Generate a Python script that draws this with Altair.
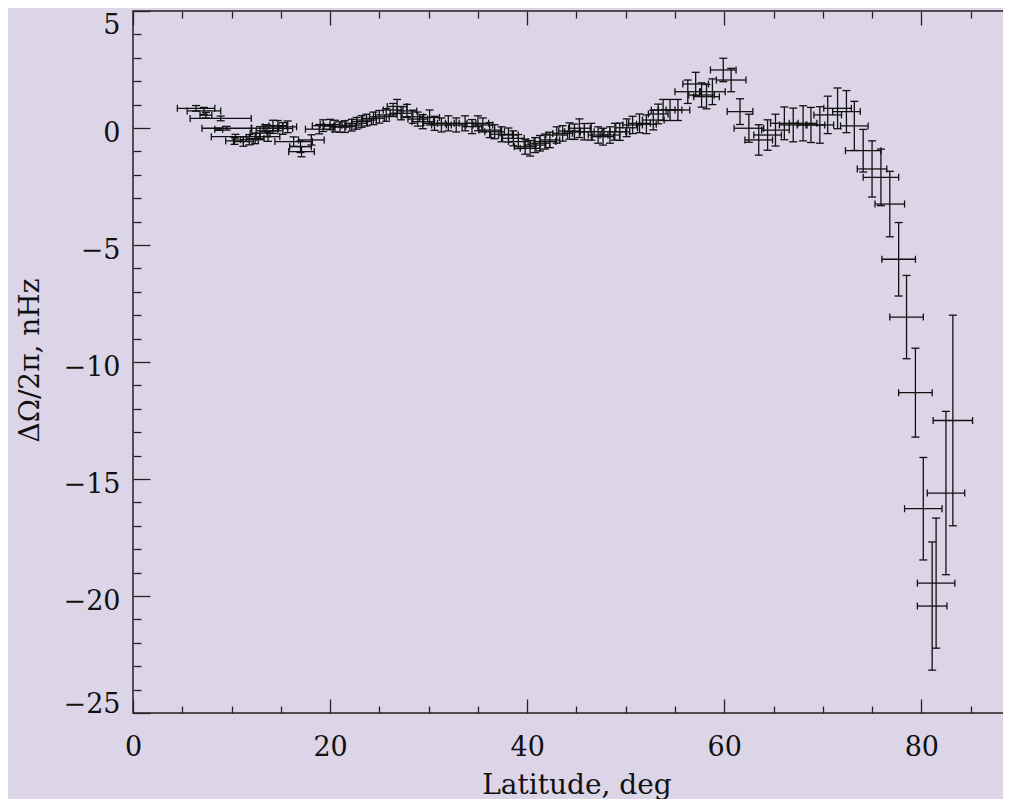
import altair as alt
import pandas as pd

# Latitude (deg), differential rotation (nHz), and half-widths of the error bars
lat = [6.4, 7.2, 7.4, 8.9, 8.7, 9.5, 10.4, 10.3, 11.2, 11.8, 12.4, 12.9, 13.4, 13.7, 13.6,
       14.2, 14.7, 15.2, 15.7, 16.3, 17.0, 17.1, 18.1, 18.9,
       19.3, 20.0, 20.5, 21.0, 21.5, 22.2, 22.7, 23.2, 23.7, 24.4, 25.0, 25.7, 26.4, 26.8,
       27.2, 27.8, 28.4, 28.9, 29.4, 30.1, 30.6, 31.3, 32.0, 32.8, 33.7, 34.4, 35.0, 35.5,
       36.2, 36.7, 37.4, 38.1, 38.6, 39.1, 39.8, 40.3, 40.8, 41.3, 41.8, 42.3, 43.0, 43.6,
       44.3, 44.8, 45.3, 45.8, 46.5, 47.2, 47.7, 48.4, 48.9, 49.4, 50.1, 50.7, 51.4, 52.1,
       52.8, 53.3, 53.8, 54.5, 55.3, 56.3, 57.1, 57.7, 58.2, 58.8, 59.9, 60.7, 61.6, 62.5,
       63.5, 64.4, 65.2, 66.1, 67.0, 68.0, 68.8, 69.7, 70.5, 71.5, 72.4, 73.2, 74.1, 75.0,
       75.9, 76.8, 77.7, 78.5, 79.4, 80.2, 81.1, 81.5, 82.5, 83.2]
val = [0.84, 0.73, 0.55, 0.41, -0.05, -0.01, -0.37, -0.55, -0.58, -0.50, -0.45, -0.22, -0.01, -0.37, -0.12,
       0.05, 0.10, -0.02, 0.05, -0.58, -0.80, -1.01, -0.51, -0.05,
       0.10, 0.15, 0.08, 0.04, 0.06, 0.12, 0.20, 0.28, 0.34, 0.41, 0.48, 0.56, 0.77, 0.92,
       0.63, 0.73, 0.48, 0.38, 0.27, 0.45, 0.20, 0.13, 0.20, 0.13, 0.20, 0.06, 0.20, 0.13,
       -0.09, -0.16, -0.27, -0.30, -0.44, -0.58, -0.80, -0.87, -0.73, -0.65, -0.58, -0.51, -0.30, -0.23,
       -0.13, -0.16, -0.01, -0.16, -0.16, -0.30, -0.37, -0.30, -0.16, -0.16, 0.01, 0.13, 0.20, 0.16,
       0.34, 0.60, 0.77, 0.77, 0.77, 1.55, 1.88, 1.41, 1.34, 1.55, 2.48, 2.05, 0.70, -0.01,
       -0.51, -0.30, -0.09, 0.20, 0.13, 0.20, 0.13, 0.13, 0.56, 0.84, 0.70, 0.09, -0.97, -1.75,
       -2.11, -3.25, -5.61, -8.08, -11.31, -16.27, -20.43, -19.45, -15.6, -12.5]
xerr = [1.9, 1.7, 0.6, 3.1, 0.4, 2.5, 2.45, 0.9, 1.0, 0.9, 0.9, 1.0, 1.35, 1.2, 1.1,
        1.0, 0.9, 1.0, 0.9, 1.9, 1.1, 1.3, 1.3, 1.4,
        1.1, 1.0, 1.1, 1.0, 1.1, 1.0, 1.1, 1.0, 1.0, 1.1, 1.0, 1.1, 1.0, 1.0,
        1.1, 1.0, 1.1, 1.0, 1.1, 1.0, 1.1, 1.0, 1.1, 1.0, 1.1, 1.0, 1.1, 1.0,
        1.1, 1.0, 1.1, 1.0, 1.1, 1.0, 1.1, 1.0, 1.1, 1.0, 1.1, 1.0, 1.1, 1.0,
        1.1, 1.0, 1.1, 1.0, 1.1, 1.0, 1.1, 1.0, 1.1, 1.0, 1.1, 1.0, 1.1, 1.0,
        1.1, 1.0, 1.2, 1.2, 1.2, 1.3, 1.3, 1.3, 1.3, 1.3, 1.3, 1.5, 1.3, 1.5,
        1.4, 1.4, 1.4, 1.4, 1.4, 1.4, 1.4, 1.4, 1.4, 1.4, 1.4, 1.4, 1.8, 1.5,
        1.8, 1.5, 1.7, 1.7, 1.7, 1.9, 1.5, 1.9, 1.9, 2.0]
yerr = [0.12, 0.15, 0.12, 0.10, 0.05, 0.08, 0.10, 0.15, 0.20, 0.22, 0.22, 0.28, 0.15, 0.20, 0.25,
        0.28, 0.22, 0.25, 0.25, 0.20, 0.25, 0.22, 0.22, 0.20,
        0.25, 0.22, 0.25, 0.22, 0.25, 0.25, 0.25, 0.25, 0.25, 0.27, 0.27, 0.27, 0.28, 0.30,
        0.28, 0.28, 0.28, 0.30, 0.30, 0.32, 0.30, 0.30, 0.32, 0.30, 0.32, 0.30, 0.32, 0.30,
        0.32, 0.30, 0.32, 0.30, 0.32, 0.30, 0.32, 0.33, 0.32, 0.33, 0.32, 0.33, 0.35, 0.33,
        0.35, 0.33, 0.40, 0.35, 0.36, 0.35, 0.36, 0.35, 0.36, 0.37, 0.38, 0.37, 0.40, 0.40,
        0.42, 0.42, 0.45, 0.45, 0.45, 0.50, 0.50, 0.52, 0.52, 0.55, 0.50, 0.50, 0.55, 0.60,
        0.65, 0.65, 0.68, 0.70, 0.72, 0.75, 0.75, 0.78, 0.80, 0.87, 0.90, 1.05, 0.91, 1.20,
        1.21, 1.40, 1.57, 1.78, 1.90, 2.19, 2.74, 2.78, 3.49, 4.5]

x_domain = [0, 89.1]
y_domain = [-25, 5]
major_x = [0, 20, 40, 60, 80]
minor_x = [5, 10, 15, 25, 30, 35, 45, 50, 55, 65, 70, 75, 85]
major_y = [-25, -20, -15, -10, -5, 0, 5]
minor_y = [-24, -23, -22, -21, -19, -18, -17, -16, -14, -13, -12, -11, -9, -8, -7, -6,
           -4, -3, -2, -1, 1, 2, 3, 4]

df = pd.DataFrame({"lat": lat, "val": val, "xerr": xerr, "yerr": yerr})

INK = "#111111"
FONT = "DejaVu Serif"
xs = alt.Scale(domain=x_domain, nice=False, zero=False)
ys = alt.Scale(domain=y_domain, nice=False, zero=False)

common = dict(grid=False, domain=False, tickColor="#222222", tickWidth=1.3)

ax_bottom = alt.Axis(orient="bottom", values=major_x, tickSize=14, offset=-14,
                     labelFlush=False, labelFont=FONT, labelFontSize=27, labelColor=INK,
                     labelPadding=21, labelOverlap=False,
                     title="Latitude, deg", titleFont=FONT, titleFontSize=28,
                     titleFontWeight="normal", titleColor=INK, titleX=443.5, titleY=94,
                     titleBaseline="alphabetic", titleAlign="center", **common)
ax_bottom_minor = alt.Axis(orient="bottom", values=minor_x, tickSize=7, offset=-7,
                           labels=False, title=None, **common)
ax_top = alt.Axis(orient="top", values=major_x, tickSize=14, offset=-14,
                  labels=False, title=None, **common)
ax_top_minor = alt.Axis(orient="top", values=minor_x, tickSize=7, offset=-7,
                        labels=False, title=None, **common)
ax_left = alt.Axis(orient="left", values=major_y, tickSize=17, offset=-17,
                   labelFlush=True, labelFont=FONT, labelFontSize=27, labelColor=INK,
                   labelPadding=13,
                   labelOffset={"condition": {"test": "datum.value == 5", "value": 1}, "value": 5},
                   labelOverlap=False,
                   title="ΔΩ/2π, nHz", titleFont=FONT, titleFontSize=28,
                   titleFontWeight="normal", titleColor=INK, titleAngle=270,
                   titleX=-120, titleY=349, titleBaseline="middle", titleAlign="center",
                   **common)
ax_left_minor = alt.Axis(orient="left", values=minor_y, tickSize=8, offset=-8,
                         labels=False, title=None, **common)

base = alt.Chart(df).transform_calculate(
    lo="datum.val - datum.yerr",
    hi="datum.val + datum.yerr",
    xlo="datum.lat - datum.xerr",
    xhi="datum.lat + datum.xerr",
)

vbar = base.mark_rule(color=INK, strokeWidth=1.3).encode(
    x=alt.X("lat:Q", scale=xs, axis=ax_bottom),
    y=alt.Y("lo:Q", scale=ys, axis=ax_left),
    y2="hi:Q",
)
hbar = base.mark_rule(color=INK, strokeWidth=1.3).encode(
    x=alt.X("xlo:Q", scale=xs, axis=ax_bottom_minor),
    x2="xhi:Q",
    y=alt.Y("val:Q", scale=ys, axis=ax_left_minor),
)
cap_lo = base.mark_tick(orient="horizontal", size=8, thickness=1.3, color=INK, opacity=1).encode(
    x=alt.X("lat:Q", scale=xs, axis=ax_top),
    y=alt.Y("lo:Q", scale=ys, axis=None),
)
cap_hi = base.mark_tick(orient="horizontal", size=8, thickness=1.3, color=INK, opacity=1).encode(
    x=alt.X("lat:Q", scale=xs, axis=ax_top_minor),
    y=alt.Y("hi:Q", scale=ys, axis=None),
)
cap_xlo = base.mark_tick(orient="vertical", size=7, thickness=1.3, color=INK, opacity=1).encode(
    x=alt.X("xlo:Q", scale=xs, axis=None),
    y=alt.Y("val:Q", scale=ys, axis=None),
)
cap_xhi = base.mark_tick(orient="vertical", size=7, thickness=1.3, color=INK, opacity=1).encode(
    x=alt.X("xhi:Q", scale=xs, axis=None),
    y=alt.Y("val:Q", scale=ys, axis=None),
)

chart = (
    alt.layer(vbar, hbar, cap_lo, cap_hi, cap_xlo, cap_xhi)
    .resolve_axis(x="independent", y="independent")
    .properties(
        width=878,
        height=702,
        autosize=alt.AutoSizeParams(type="none"),
        padding={"left": 125, "top": 3, "right": -8, "bottom": 86},
        background="#dcd5e8",
    )
    .configure_view(stroke="#222222", strokeWidth=1.5)
)

chart.save("out.html", embed_options={"renderer": "svg", "actions": False})
